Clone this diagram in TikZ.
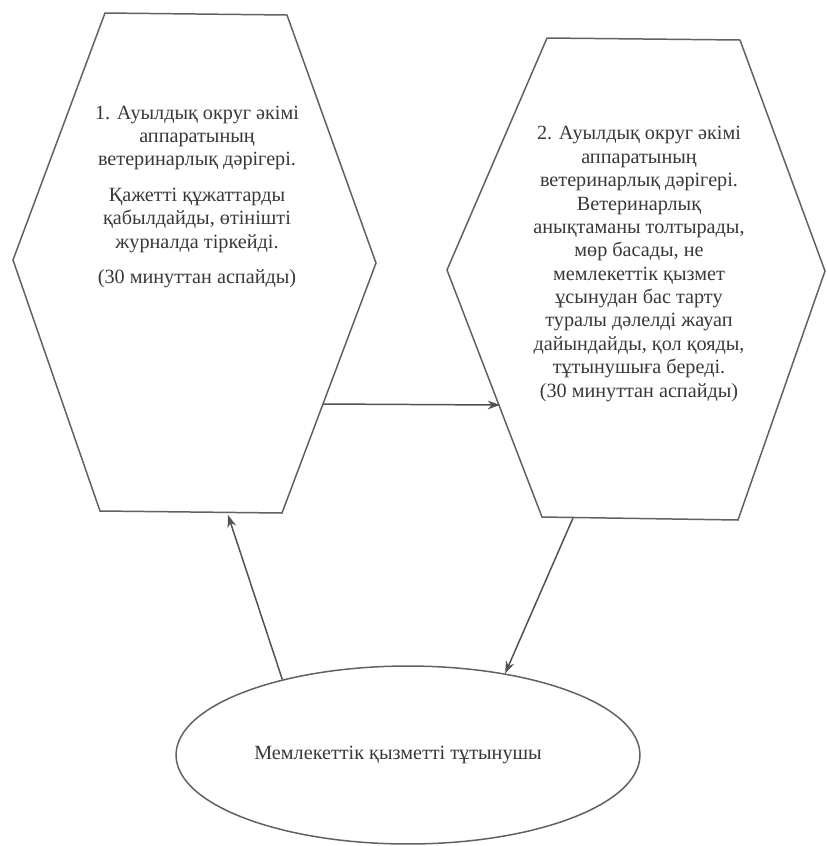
\documentclass[tikz,border=0pt]{standalone}
\usepackage{fontspec}
\setmainfont{Liberation Serif}
\usetikzlibrary{arrows.meta,shapes.geometric}

\begin{document}
\begin{tikzpicture}[
        %We set the scale and define some styles
        x=0.02cm, y=-0.02cm,
        hex line/.style={line width=0.85pt, draw=black!62, line join=miter},
        flow arrow/.style={line width=0.85pt, draw=black!68, -{Stealth[length=7pt,width=5pt]}},
        every node/.style={color=black!78, font=\fontsize{11.5}{13.3}\selectfont},
        stage text/.style={align=center, inner sep=0pt},
    ]
    \useasboundingbox (0,0) rectangle (827,846);

    % Important coordinates are defined
    \coordinate (h1 top left) at (105,13);
    \coordinate (h1 top right) at (287,15);
    \coordinate (h1 right) at (376,263);
    \coordinate (h1 bottom right) at (282,513);
    \coordinate (h1 bottom left) at (100,511);
    \coordinate (h1 left) at (13,260);

    \coordinate (h2 top left) at (547,38);
    \coordinate (h2 top right) at (740,40);
    \coordinate (h2 right) at (825,271);
    \coordinate (h2 bottom right) at (738,520);
    \coordinate (h2 bottom left) at (542,517);
    \coordinate (h2 left) at (447,270);

    % ends of the connectors on the hexagon sides
    \coordinate (h1 out) at (323,404);
    \coordinate (h2 in) at (500,405);
    \coordinate (h1 in) at (228,515);
    \coordinate (h2 out) at (573,518);

    % the two stages
    \draw[hex line] (h1 top left) -- (h1 top right) -- (h1 right)
        -- (h1 bottom right) -- (h1 bottom left) -- (h1 left) -- cycle;
    \draw[hex line] (h2 top left) -- (h2 top right) -- (h2 right)
        -- (h2 bottom right) -- (h2 bottom left) -- (h2 left) -- cycle;

    \node[stage text] (stage one) at (197,197) {1. Ауылдық округ әкімі\\
        аппаратының\\
        ветеринарлық дәрігері.\\[7pt]
        Қажетті құжаттарды\\
        қабылдайды, өтінішті\\
        журналда тіркейді.\\[7pt]
        (30 минуттан аспайды)};
    \node[stage text] (stage two) at (639,264) {2. Ауылдық округ әкімі\\
        аппаратының\\
        ветеринарлық дәрігері.\\
        Ветеринарлық\\
        анықтаманы толтырады,\\
        мөр басады, не\\
        мемлекеттік қызмет\\
        ұсынудан бас тарту\\
        туралы дәлелді жауап\\
        дайындайды, қол қояды,\\
        тұтынушыға береді.\\
        (30 минуттан аспайды)};

    % the consumer
    \node[ellipse, hex line, minimum width=9.28cm, minimum height=3.56cm, inner sep=0pt]
        (consumer) at (408,755) {Мемлекеттік қызметті тұтынушы\hspace*{0.4cm}};

    % connectors
    \draw[flow arrow] (h1 out) -- (h2 in);
    \draw[flow arrow] (consumer.149) -- (h1 in);
    \draw[flow arrow] (h2 out) -- (consumer.40);
\end{tikzpicture}
\end{document}
